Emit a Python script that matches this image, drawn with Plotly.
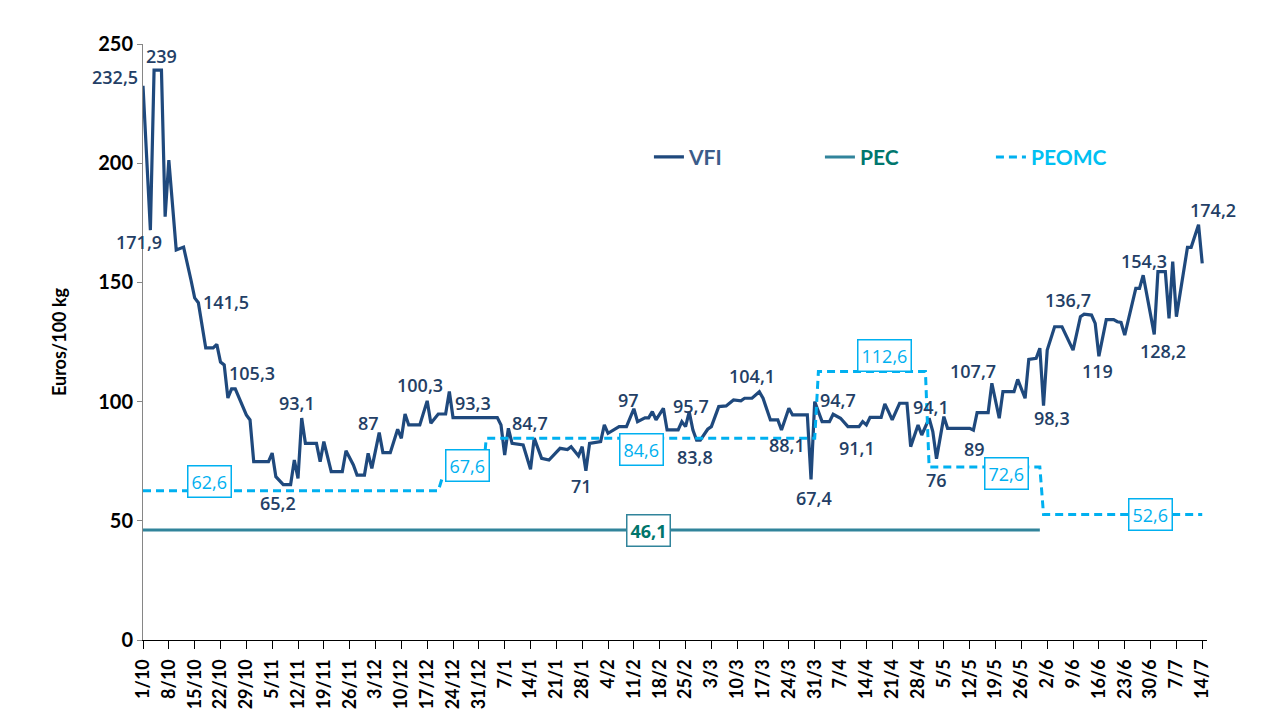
import plotly.graph_objects as go

# ---------------- data ----------------
tick_labels = ["1/10", "8/10", "15/10", "22/10", "29/10", "5/11", "12/11", "19/11", "26/11",
               "3/12", "10/12", "17/12", "24/12", "31/12", "7/1", "14/1", "21/1", "28/1",
               "4/2", "11/2", "18/2", "25/2", "3/3", "10/3", "17/3", "24/3", "31/3",
               "7/4", "14/4", "21/4", "28/4", "5/5", "12/5", "19/5", "26/5", "2/6",
               "9/6", "16/6", "23/6", "30/6", "7/7", "14/7"]

vfi_dates = ["1/10", "3/10", "4/10", "6/10", "7/10", "8/10", "10/10", "12/10", "14/10", "15/10",
             "16/10", "18/10", "20/10", "21/10", "22/10", "23/10", "24/10", "25/10", "26/10", "28/10",
             "29/10", "30/10", "31/10", "4/11", "5/11", "6/11", "8/11", "10/11", "11/11", "12/11",
             "13/11", "14/11", "17/11", "18/11", "19/11", "21/11", "24/11", "25/11", "27/11", "28/11",
             "30/11", "1/12", "2/12", "4/12", "5/12", "7/12", "9/12", "10/12", "11/12", "12/12",
             "15/12", "17/12", "18/12", "20/12", "22/12", "23/12", "24/12", "5/1", "6/1", "7/1",
             "8/1", "9/1", "12/1", "14/1", "15/1", "17/1", "19/1", "22/1", "24/1", "25/1",
             "26/1", "27/1", "28/1", "29/1", "30/1", "2/2", "3/2", "4/2", "7/2", "9/2",
             "11/2", "12/2", "14/2", "15/2", "16/2", "17/2", "19/2", "20/2", "23/2", "24/2",
             "25/2", "26/2", "27/2", "28/2", "29/2", "2/3", "3/3", "5/3", "7/3", "9/3",
             "11/3", "12/3", "14/3", "16/3", "17/3", "19/3", "21/3", "22/3", "24/3", "25/3",
             "29/3", "30/3", "31/3", "2/4", "4/4", "5/4", "7/4", "9/4", "12/4", "13/4",
             "14/4", "15/4", "18/4", "19/4", "20/4", "21/4", "23/4", "25/4", "26/4", "28/4",
             "29/4", "1/5", "2/5", "3/5", "5/5", "6/5", "12/5", "13/5", "14/5", "17/5",
             "18/5", "20/5", "21/5", "24/5", "25/5", "27/5", "28/5", "30/5", "31/5", "1/6",
             "2/6", "4/6", "6/6", "8/6", "9/6", "11/6", "12/6", "14/6", "15/6", "16/6",
             "18/6", "20/6", "21/6", "22/6", "23/6", "26/6", "27/6", "28/6", "1/7", "2/7",
             "4/7", "5/7", "6/7", "7/7", "10/7", "11/7", "13/7", "14/7"]
vfi_values = [232.5, 171.9, 239, 239, 177.6, 201.3, 163.6, 164.8, 151, 143.5,
              141.5, 122.5, 122.5, 124, 116.6, 115.4, 101.5, 105.3, 105.3, 97.9,
              94.4, 92.3, 74.8, 74.8, 78.4, 68.5, 65.2, 65.2, 75.5, 67.8,
              93.1, 82.5, 82.5, 74.8, 83.2, 70.6, 70.6, 79.4, 73.4, 69.2,
              69.2, 78.3, 72.0, 87, 78.6, 78.6, 88.4, 84.6, 94.8, 90.2,
              90.2, 100.3, 90.9, 94.8, 94.8, 104.2, 93.3, 93.3, 90.2, 77.6,
              88.8, 82.5, 81.8, 71.6, 84.7, 76.2, 75.5, 80.4, 79.9, 81.1,
              79.3, 77.2, 81.1, 71, 82.5, 83.2, 90.2, 86.7, 89.5, 89.5,
              97, 91.6, 93.2, 93.2, 95.8, 92.3, 97.2, 88.1, 88.1, 91.6,
              89.5, 95.7, 88.1, 83.8, 83.8, 88.4, 89.5, 97.9, 98.2, 100.7,
              100.3, 101.4, 101.4, 104.1, 101.4, 92.3, 92.3, 88.1, 97.2, 94.4,
              94.4, 67.4, 100, 91.6, 91.6, 94.7, 93, 89.5, 89.5, 91.6,
              90.2, 93.4, 93.4, 99, 95.8, 92.3, 99.3, 99.3, 81.1, 90.2,
              86, 93, 87.4, 76, 93.7, 88.8, 88.8, 88, 95.4, 95.4,
              107.7, 93, 104.2, 104.2, 109.3, 101.4, 117.7, 118.2, 122.4, 98.3,
              121.6, 131.4, 131.4, 125.1, 121.6, 135.6, 136.7, 136.3, 132.8, 119,
              134.4, 134.4, 133.5, 133.2, 127.9, 147.5, 147.5, 153, 128.2, 154.5,
              154.5, 134.9, 158.7, 135.6, 164.7, 164.7, 174.2, 158]

pec_dates = ["1/10", "31/5"]
pec_values = [46.1, 46.1]

peomc_dates = ["1/10", "20/12", "21/12", "1/1", "2/1", "31/3", "1/4", "30/4", "1/5", "31/5", "1/6", "14/7"]
peomc_values = [62.6, 62.6, 67.6, 67.6, 84.6, 84.6, 112.6, 112.6, 72.6, 72.6, 52.6, 52.6]

# data labels on VFI (date of labelled point, text)
vfi_label_dates = ["1/10", "6/10", "3/10", "16/10", "25/10", "13/11", "8/11", "4/12", "17/12", "24/12",
                   "15/1", "29/1", "11/2", "26/2", "28/2", "16/3", "22/3", "30/3", "5/4", "9/4",
                   "1/5", "3/5", "13/5", "18/5", "1/6", "12/6", "16/6", "28/6", "1/7", "13/7"]
vfi_label_texts = ["232,5", "239", "171,9", "141,5", "105,3", "93,1", "65,2", "87", "100,3", "93,3",
                   "84,7", "71", "97", "95,7", "83,8", "104,1", "88,1", "67,4", "94,7", "91,1",
                   "94,1", "76", "89", "107,7", "98,3", "136,7", "119", "154,3", "128,2", "174,2"]

# ---------------- layout helpers (placement only) ----------------
vfi_label_offsets = [(-28, 9), (0, 14), (-11, -12), (28, 1), (20, 16), (-5, 15), (-5, -18), (-11, 10),
                     (-7, 16), (20, 15), (-4, 15), (-4, -15), (-5, 9), (2, 6), (-2, -17), (-7, 16),
                     (6, -15), (3, -19), (5, 14), (9, -21), (2, 11), (0, -21), (1, -19), (-19, 12),
                     (8, -12), (-16, 14), (-1, -15), (1, 14), (9, -17), (14, 15)]
peomc_box_dates = ["19/10", "28/12", "13/2", "19/4", "22/5", "30/6"]
peomc_box_values = [62.6, 67.6, 84.6, 112.6, 72.6, 52.6]
peomc_box_dy = [9, 13, -11, 16, -7, 0]
pec_box_date = "15/2"


def to_date(dm):
    d, m = map(int, dm.split("/"))
    y = 2007 if m >= 10 else 2008
    return f"{y}-{m:02d}-{d:02d}"


def fmt(v):
    s = f"{v:.1f}".replace(".", ",")
    return s[:-2] if s.endswith(",0") else s


FONT = "Lato"
LFONT = "Open Sans"
C_VFI = "#1F497D"
C_PEC = "#31849B"
C_PEOMC = "#00B0F0"
C_LBL = "#243F66"

fig = go.Figure()
fig.add_trace(go.Scatter(
    x=[to_date(d) for d in vfi_dates], y=vfi_values, mode="lines",
    line=dict(color=C_VFI, width=3.2),
    name="<b><span style='color:#3B5C8A'>VFI</span></b>"))
fig.add_trace(go.Scatter(
    x=[to_date(d) for d in pec_dates], y=pec_values, mode="lines",
    line=dict(color=C_PEC, width=3),
    name="<b><span style='color:#00776E'>PEC</span></b>"))
fig.add_trace(go.Scatter(
    x=[to_date(d) for d in peomc_dates], y=peomc_values, mode="lines",
    line=dict(color=C_PEOMC, width=3, dash="8px,5px"),
    name="<b><span style='color:#00C0F2'>PEOMC</span></b>"))

annotations = []
vfi_lookup = dict(zip(vfi_dates, vfi_values))
for d, t, (dx, dy) in zip(vfi_label_dates, vfi_label_texts, vfi_label_offsets):
    annotations.append(dict(x=to_date(d), y=vfi_lookup[d], text=t, showarrow=False,
                            xshift=dx, yshift=dy,
                            font=dict(family=LFONT, size=18, color=C_LBL, weight=600)))
for d, v, dy in zip(peomc_box_dates, peomc_box_values, peomc_box_dy):
    annotations.append(dict(x=to_date(d), y=v, text=fmt(v), showarrow=False, yshift=dy,
                            font=dict(family=LFONT, size=18, color=C_PEOMC),
                            bgcolor="white", bordercolor=C_PEOMC, borderwidth=1.5, borderpad=3))
annotations.append(dict(x=to_date(pec_box_date), y=pec_values[0], text=fmt(pec_values[0]),
                        showarrow=False,
                        font=dict(family=LFONT, size=18, color="#00756B", weight="bold"),
                        bgcolor="white", bordercolor=C_PEC, borderwidth=1.5, borderpad=3))

# page body adds an 8px margin: figure is sized/margined so the plot area lands where the reference has it
fig.update_layout(
    width=1261, height=704,
    margin=dict(l=135, r=62, t=36, b=72, autoexpand=False),
    paper_bgcolor="white", plot_bgcolor="white",
    font=dict(family=FONT, color="black"),
    annotations=annotations,
    legend=dict(orientation="h", x=0.4755, y=0.81, xanchor="left", yanchor="middle",
                font=dict(family=FONT, size=21), entrywidth=126, entrywidthmode="pixels",
                bgcolor="rgba(0,0,0,0)"),
    shapes=[dict(type="line", xref="paper", yref="paper", x0=1.0605, x1=1.0605,
                 y0=-0.13, y1=1.07, line=dict(color="#8C8C8C", width=1))],
)
fig.update_xaxes(
    type="date", range=["2007-10-01", "2008-07-15 07:00"], automargin=False,
    tickmode="array", tickvals=[to_date(t) for t in tick_labels], ticktext=tick_labels,
    tickangle=-90, ticks="outside", ticklen=8, tickcolor="black", tickwidth=1,
    showline=True, linecolor="black", linewidth=1, showgrid=False, zeroline=False,
    tickfont=dict(family=FONT, size=18, color="black", weight="bold"),
    ticklabelstandoff=3,
)
fig.update_yaxes(
    range=[0, 250], dtick=50, ticks="outside", ticklen=5, tickcolor="#868686", automargin=False,
    showline=True, linecolor="#868686", linewidth=1, showgrid=False, zeroline=False,
    tickfont=dict(family=FONT, size=20, color="black", weight="bold"),
    title=dict(text="Euros/100 kg", standoff=26,
               font=dict(family=FONT, size=18, color="black", weight="bold")),
)

fig.write_html("out.html")
